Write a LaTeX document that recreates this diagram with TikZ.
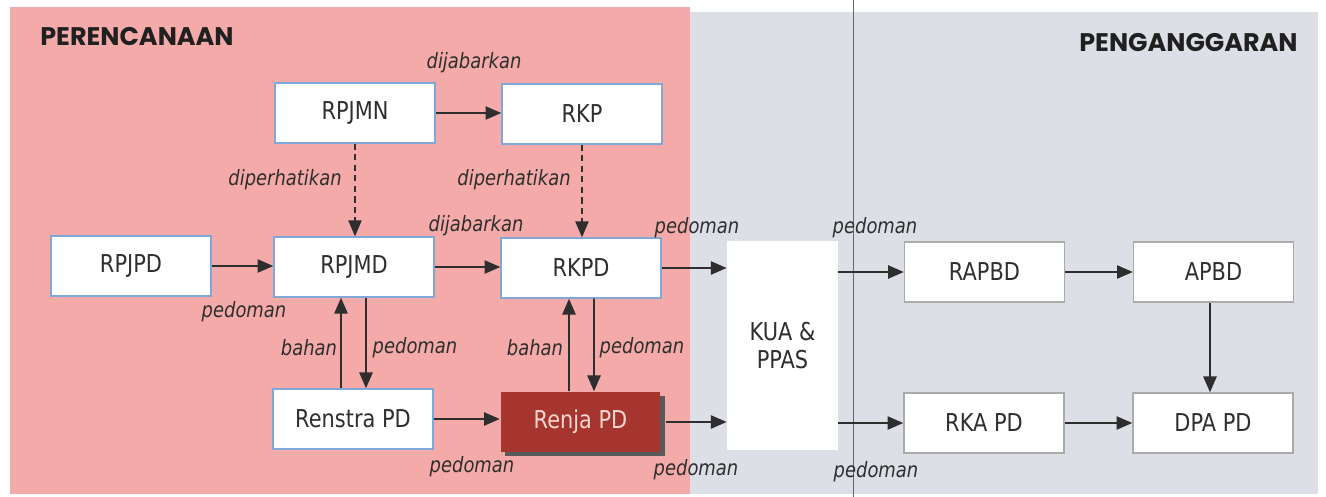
\documentclass[tikz,border=0pt]{standalone}
\usepackage{fontspec}
\usepackage{tikz}
\usetikzlibrary{arrows.meta,calc}
\setmainfont{DejaVu Sans}[FakeStretch=0.85]
\newfontfamily\headfont{Poppins}
\definecolor{planpink}{HTML}{F3AAA9}
\definecolor{budgetgrey}{HTML}{DCDFE6}
\definecolor{boxblue}{HTML}{7FA8D8}
\definecolor{boxgrey}{HTML}{ABABAB}
\definecolor{renjared}{HTML}{A6352F}
\definecolor{renjatext}{HTML}{F6D6D1}
\definecolor{ink}{HTML}{2E2E2E}
\newcommand{\boxfont}{\fontsize{14}{16}\selectfont}
\newcommand{\lblfont}{\fontsize{12}{14}\selectfont\itshape}

\begin{document}
\begin{tikzpicture}[x=0.02cm, y=-0.02cm,
    planbox/.style={draw=boxblue, line width=0.8pt, fill=white, text=ink,
        minimum width=3.2cm, minimum height=1.2cm, font=\boxfont},
    budgetbox/.style={planbox, draw=boxgrey},
    lbl/.style={text=ink, font=\lblfont, inner sep=0pt},
    title/.style={text=ink!70!black, font=\headfont\bfseries\fontsize{14.5}{16}\selectfont, inner sep=0pt},
    arr/.style={-{Triangle[length=9pt,width=7.5pt]}, line width=1.1pt, ink},
    dasharr/.style={arr, dashed, line width=0.8pt, dash pattern=on 3.5pt off 2.5pt}]
    \useasboundingbox (0,0) rectangle (1326,497);

    % Panels
    \fill[planpink] (10,7) rectangle (690,494);
    \fill[budgetgrey] (690,12) rectangle (1318,494);
    \draw[gray!80!black, line width=0.5pt] (853,0) -- (853,497);

    % Headers
    \node[title, anchor=west] (perencanaan) at (40,37) {PERENCANAAN};
    \node[title, anchor=east] (penganggaran) at (1298,43) {PENGANGGARAN};

    % Planning boxes
    \node[planbox] (rpjmn) at (355,113) {RPJMN};
    \node[planbox] (rkp) at (582,114) {RKP};
    \node[planbox] (rpjpd) at (131,266) {RPJPD};
    \node[planbox] (rpjmd) at (354,267) {RPJMD};
    \node[planbox] (rkpd) at (581,268) {RKPD};
    \node[planbox] (renstra) at (353,419) {Renstra PD};
    \fill[gray!70!black] (505,396) rectangle (665,456);
    \node[planbox, draw=none, fill=renjared, text=renjatext] (renja) at (580.5,422) {Renja PD};

    % KUA & PPAS
    \node[fill=white, text=ink, font=\boxfont, minimum width=2.22cm, minimum height=4.18cm,
        align=center] (kua) at (782.5,345.5) {KUA \&\\PPAS};

    % Budget boxes
    \node[budgetbox] (rapbd) at (984.5,272) {RAPBD};
    \node[budgetbox] (apbd) at (1213.5,272) {APBD};
    \node[budgetbox] (rka) at (984,423) {RKA PD};
    \node[budgetbox] (dpa) at (1213,423) {DPA PD};
    \coordinate (apbdfoot) at ($(apbd.south)+(-3.5,0)$);

    % Arrows
    \draw[arr] (rpjmn.east) -- (rpjmn.east -| rkp.west);
    \draw[dasharr] (rpjmn.south) -- (rpjmn.south |- rpjmd.north);
    \draw[dasharr] (rkp.south) -- (rkp.south |- rkpd.north);
    \draw[arr] (rpjpd.east) -- (rpjpd.east -| rpjmd.west);
    \draw[arr] (rpjmd.east) -- (rpjmd.east -| rkpd.west);
    \draw[arr] (rkpd.east) -- (rkpd.east -| kua.west);
    \draw[arr] ($(renstra.north)+(-12,0)$) -- ($(rpjmd.south)+(-13,0)$);
    \draw[arr] ($(rpjmd.south)+(12,0)$) -- ($(renstra.north)+(13,0)$);
    \draw[arr] ($(renja.north)+(-11.5,0)$) -- ($(rkpd.south)+(-12,0)$);
    \draw[arr] ($(rkpd.south)+(13,0)$) -- ($(renja.north)+(13.5,0)$);
    \draw[arr] (renstra.east) -- (renstra.east -| renja.west);
    \draw[arr] ($(renja.east)+(5,0)$) -- (renja.east -| kua.west);
    \draw[arr] (kua.east |- rapbd.west) -- (rapbd.west);
    \draw[arr] (kua.east |- rka.west) -- (rka.west);
    \draw[arr] (rapbd.east) -- (rapbd.east -| apbd.west);
    \draw[arr] (rka.east) -- (rka.east -| dpa.west);
    \draw[arr] (apbdfoot) -- (apbdfoot |- dpa.north);

    % Labels
    \node[lbl] (l1) at (474,63) {dijabarkan};
    \node[lbl] (l2) at (285,180) {diperhatikan};
    \node[lbl] (l3) at (514,180) {diperhatikan};
    \node[lbl] (l4) at (476,226) {dijabarkan};
    \node[lbl] (l5) at (697,228) {pedoman};
    \node[lbl] (l6) at (875,228) {pedoman};
    \node[lbl] (l7) at (244,312) {pedoman};
    \node[lbl] (l8) at (309,348) {bahan};
    \node[lbl] (l9) at (415,348) {pedoman};
    \node[lbl] (l10) at (535,348) {bahan};
    \node[lbl] (l11) at (642,348) {pedoman};
    \node[lbl] (l12) at (472,467) {pedoman};
    \node[lbl] (l13) at (696,470) {pedoman};
    \node[lbl] (l14) at (876,472) {pedoman};
\end{tikzpicture}
\end{document}
